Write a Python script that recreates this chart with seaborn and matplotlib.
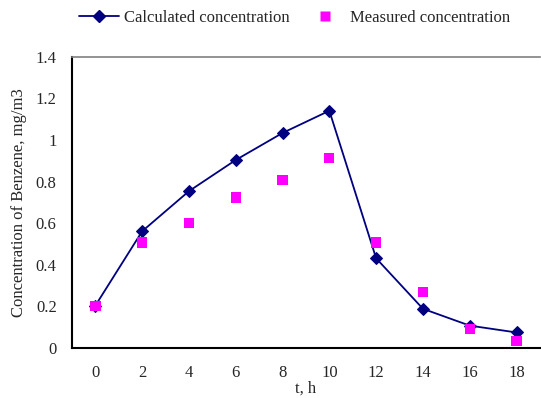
import numpy as np
import pandas as pd
import matplotlib
matplotlib.use('Agg')
import matplotlib.pyplot as plt
import seaborn as sns
from matplotlib.lines import Line2D

# ---- data ----
t_hours = [0, 2, 4, 6, 8, 10, 12, 14, 16, 18]
calculated = [0.203, 0.561, 0.754, 0.904, 1.034, 1.141, 0.431, 0.188, 0.107, 0.074]
measured = [0.200, 0.507, 0.600, 0.723, 0.808, 0.915, 0.507, 0.269, 0.091, 0.034]
y_ticks = [0, 0.2, 0.4, 0.6, 0.8, 1, 1.2, 1.4]
y_tick_labels = ['0', '0.2', '0.4', '0.6', '0.8', '1', '1.2', '1.4']

df = pd.DataFrame({'t': t_hours, 'Calculated': calculated, 'Measured': measured})

# ---- style ----
sns.set_style('white')
plt.rcParams['font.family'] = ['Liberation Serif', 'DejaVu Serif']
plt.rcParams['font.size'] = 12

fig = plt.figure(figsize=(5.41, 3.98), dpi=100)
ax = fig.add_axes([0.133, 0.126, 0.865, 0.731])

navy = '#000080'
magenta = '#FF00FF'

sns.lineplot(data=df, x='t', y='Calculated', color=navy, linewidth=1.3,
             marker='D', markersize=6.5, markeredgecolor=navy, ax=ax, zorder=3)
sns.scatterplot(data=df, x='t', y='Measured', color=magenta, marker='s',
                s=55, edgecolor='none', ax=ax, zorder=4)

ax.set_xlim(-1, 19)
ax.set_ylim(0, 1.4)
ax.set_xticks(t_hours)
ax.set_xticklabels([str(v) for v in t_hours])
ax.set_xticks(np.arange(1, 19, 2), minor=True)
ax.tick_params(axis='x', which='major', length=0, pad=12, labelsize=12)
ax.tick_params(axis='x', which='minor', direction='in', length=4, width=1, color='black')
ax.set_yticks(y_ticks)
ax.set_yticklabels(y_tick_labels)
ax.tick_params(axis='y', which='major', direction='in', length=5, width=1, color='#555555', pad=11, labelsize=12)

for side in ['left', 'bottom']:
    ax.spines[side].set_color('black')
    ax.spines[side].set_linewidth(1.5)
ax.spines['top'].set_color('#808080')
ax.spines['top'].set_linewidth(1.2)
ax.spines['right'].set_visible(False)

ax.set_xlabel('t, h', fontsize=12, labelpad=0)
ax.set_ylabel('Concentration of Benzene, mg/m3', fontsize=12, labelpad=6)

handles = [
    Line2D([0], [0], color=navy, linewidth=1.3, marker='D', markersize=6, markeredgecolor=navy),
    Line2D([0], [0], color='none', marker='s', markersize=7, markerfacecolor=magenta, markeredgecolor='none'),
]
fig.legend(handles, ['Calculated concentration', 'Measured concentration'],
           loc='center', bbox_to_anchor=(0.544, 0.955), ncol=2, frameon=False,
           fontsize=12, handlelength=2.4, columnspacing=0.9, handletextpad=0.3)

plt.savefig('out.png', dpi=100)
